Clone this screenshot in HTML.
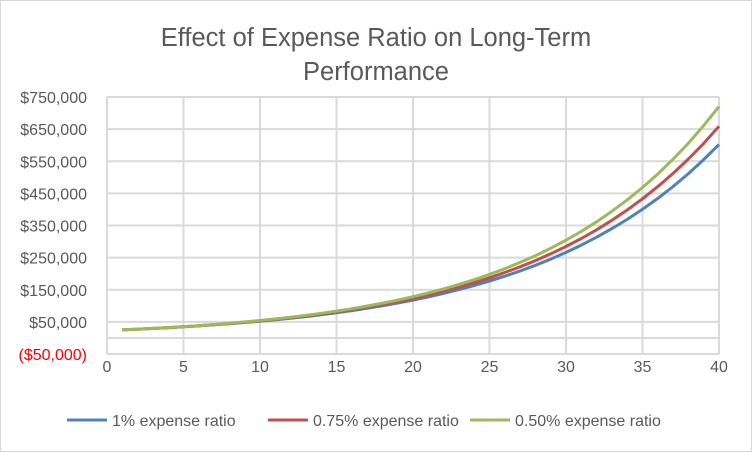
<!DOCTYPE html>
<html><head><meta charset="utf-8"><style>
body{margin:0;background:#fff}
svg{display:block;font-family:"Liberation Sans",sans-serif}
</style></head><body>
<svg width="752" height="452" viewBox="0 0 752 452">
<rect x="0.5" y="0.5" width="751" height="451" fill="#fff" stroke="#d9d9d9"/>
<text x="376" y="46" text-anchor="middle" font-size="25.5" fill="#595959">Effect of Expense Ratio on Long-Term</text>
<text x="376" y="80" text-anchor="middle" font-size="25.5" fill="#595959">Performance</text>
<g id="grid"></g><g id="axes"></g><g id="series"></g>
<g id="legend"></g>
</svg>
<script>
const years=[1,2,3,4,5,6,7,8,9,10,11,12,13,14,15,16,17,18,19,20,21,22,23,24,25,26,27,28,29,30,31,32,33,34,35,36,37,38,39,40];
const s1=[25,27.1,29.4,31.9,34.6,37.6,40.8,44.3,48.0,52.1,56.5,61.3,66.5,72.2,78.3,85.0,92.2,100.1,108.6,117.8,127.8,138.7,150.5,163.2,177.1,192.2,208.5,226.2,245.5,266.3,289.0,313.5,340.2,369.1,400.5,434.5,471.4,511.5,555.0,602.1];
const s2=[25,27.2,29.6,32.2,35.0,38.0,41.4,45.0,48.9,53.2,57.8,62.9,68.4,74.4,80.9,88.0,95.7,104.1,113.2,123.1,133.8,145.5,158.3,172.1,187.2,203.6,221.4,240.7,261.8,284.7,309.6,336.7,366.2,398.2,433.1,471.0,512.2,557.0,605.7,658.7];
const s3=[25,27.3,29.7,32.4,35.3,38.5,41.9,45.7,49.8,54.3,59.2,64.5,70.3,76.6,83.5,91.1,99.3,108.2,117.9,128.5,140.1,152.7,166.5,181.4,197.8,215.6,235.0,256.1,279.2,304.3,331.7,361.5,394.1,429.6,468.2,510.4,556.3,606.3,660.9,720.4];
const yTicks=[-50,50,150,250,350,450,550,650,750];
const yLabels=["($50,000)","$50,000","$150,000","$250,000","$350,000","$450,000","$550,000","$650,000","$750,000"];
const xTicks=[0,5,10,15,20,25,30,35,40];
const seriesNames=["1% expense ratio","0.75% expense ratio","0.50% expense ratio"];
const colors=["#4f81bd","#c0504d","#9bbb59"];
const NS="http://www.w3.org/2000/svg";
const X0=107,X1=719,YT=97,YB=354;
const xs=v=>X0+(v-0)/40*(X1-X0);
const ys=v=>YB-(v+50)/800*(YB-YT);
function mk(tag,attrs,parent){const e=document.createElementNS(NS,tag);for(const k in attrs)e.setAttribute(k,attrs[k]);document.getElementById(parent).appendChild(e);return e;}
yTicks.forEach((t,i)=>{
 const l=mk('line',{x1:X0,x2:X1,y1:ys(t),y2:ys(t),stroke:'#d9d9d9','stroke-width':2},'grid');
 
 
 const tx=mk('text',{x:87,y:ys(t)+6,'text-anchor':'end','font-size':16,fill:t<0?'#ff0000':'#595959'},'axes');
 tx.textContent=yLabels[i];
 
 
});
xTicks.forEach(t=>{
 const l=mk('line',{x1:xs(t),x2:xs(t),y1:YT,y2:YB,stroke:'#d9d9d9','stroke-width':2},'grid');
 
 
 const tx=mk('text',{x:xs(t),y:372,'text-anchor':'middle','font-size':16,fill:'#595959'},'axes');
 tx.textContent=t;
 
 
});
const ax=mk('line',{x1:X0,x2:X1,y1:ys(0),y2:ys(0),stroke:'#d9d9d9','stroke-width':2},'grid');


[s1,s2,s3].forEach((s,i)=>{
 const d=s.map((v,j)=>(j?'L':'M')+xs(years[j]).toFixed(1)+','+ys(v).toFixed(1)).join('');
 const p=mk('path',{d:d,fill:'none',stroke:colors[i],'stroke-width':3,'stroke-linejoin':'round'},'series');
 
 
});
const lx=[67,268,470];
seriesNames.forEach((n,i)=>{
 const l=mk('line',{x1:lx[i],x2:lx[i]+40,y1:420,y2:420,stroke:colors[i],'stroke-width':3},'legend');
 
 
 const t=mk('text',{x:lx[i]+45,y:426,'font-size':16,fill:'#595959'},'legend');
 t.textContent=n;
 
 
});
</script>
</body></html>
